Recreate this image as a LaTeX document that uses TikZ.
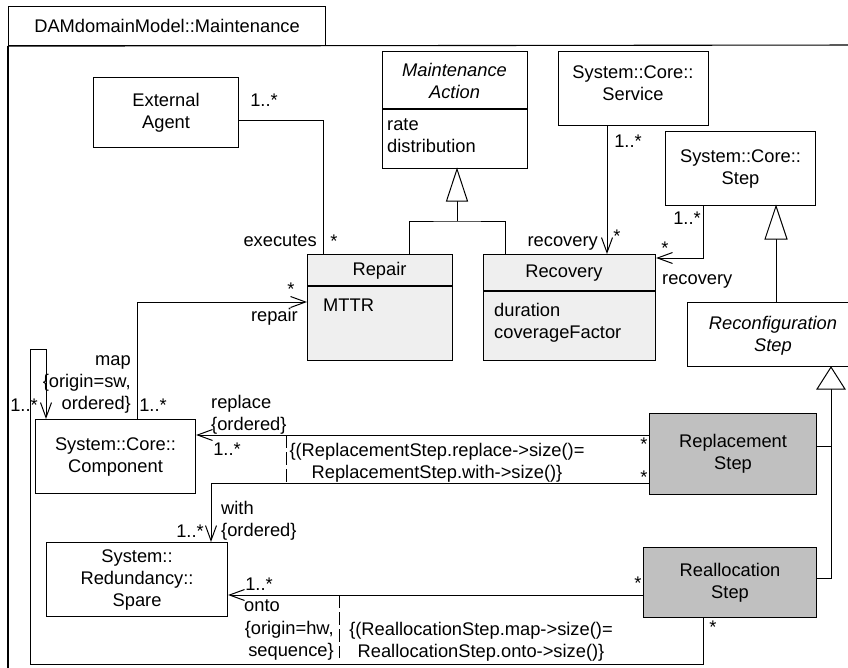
\documentclass[tikz,border=0pt]{standalone}
\usepackage{fontspec}
\setmainfont{Liberation Sans}
\usetikzlibrary{arrows.meta}
\definecolor{lightfill}{HTML}{EFEFEF}
\definecolor{darkfill}{HTML}{C0C0C0}
\tikzset{
  umlbox/.style={draw=black, line width=1.1bp, inner sep=0, anchor=north west, align=center},
  sepline/.style={draw=black, line width=1.1bp},
  conn/.style={draw=black, line width=1bp},
  nav/.style={conn, -{Straight Barb[length=15bp,width=11bp,line width=1bp]}},
  gentri/.style={draw=black, line width=1bp, fill=white},
  lbl/.style={inner sep=0, text height=13bp, text depth=4bp},
  txt/.style={inner sep=0, align=center},
  ital/.style={font=\fontsize{18.3bp}{22bp}\selectfont\itshape},
  ocl/.style={conn, dash pattern=on 13bp off 4bp},
}
\begin{document}
\begin{tikzpicture}[x=1bp, y=-1bp, every node/.style={font=\fontsize{18.3bp}{22bp}\selectfont}]
\path[use as bounding box] (0,0) rectangle (848,668);
\clip (0,0) rectangle (848,668);

% routing coordinates
\coordinate (cExec) at (323,121);
\coordinate (tA) at (457,0);
\coordinate (jA) at (457,221);
\coordinate (xRep) at (409,0);
\coordinate (xRec) at (505,0);
\coordinate (xSrv) at (607,0);
\coordinate (xStp) at (703,258);
\coordinate (tS) at (776,0);
\coordinate (tR) at (831,0);
\coordinate (yRp) at (0,446);
\coordinate (yRa) at (0,578);
\coordinate (cRep) at (137,302);
\coordinate (yRepl) at (0,435);
\coordinate (cWith) at (211,483);
\coordinate (yOnto) at (0,595);
\coordinate (k1) at (286,435);
\coordinate (k2) at (286,483);
\coordinate (k3) at (339,595);
\coordinate (k4) at (339,658);
\coordinate (m1) at (703,664);
\coordinate (m2) at (30,664);
\coordinate (m3) at (30,349);
\coordinate (m4) at (46,349);
\coordinate (frameR) at (870,45);
\coordinate (frameB) at (8,690);

% package frame
\node[umlbox, minimum width=317bp, minimum height=39bp] (tab) at (8,6) {DAMdomainModel::Maintenance};
\draw[sepline] (tab.south west) -- (frameR);
\draw[sepline] (tab.south west) -- (frameB);

% classes
\node[umlbox, minimum width=145bp, minimum height=70bp] (ext) at (93,77) {External\\Agent};
\node[umlbox, minimum width=145bp, minimum height=117bp] (maint) at (382,51) {};
\node[umlbox, minimum width=150bp, minimum height=74bp] (service) at (558,51) {};
\node[umlbox, minimum width=150bp, minimum height=74bp] (step) at (665,131) {System::Core::\\Step};
\node[umlbox, fill=lightfill, minimum width=145bp, minimum height=106bp] (repair) at (307,254) {};
\node[umlbox, fill=lightfill, minimum width=172bp, minimum height=106bp] (recovery) at (483,254) {};
\node[umlbox, minimum width=172bp, minimum height=64bp] (reconf) at (687,302) {};
\node[umlbox, minimum width=160bp, minimum height=74bp] (comp) at (35,419) {System::Core::\\Component};
\node[umlbox, minimum width=181bp, minimum height=74bp] (spare) at (46,542) {System::\\Redundancy::\\Spare};
\node[umlbox, fill=darkfill, minimum width=167bp, minimum height=81bp] (replacement) at (649,413) {Replacement\\Step};
\node[umlbox, fill=darkfill, minimum width=173bp, minimum height=70bp] (realloc) at (643,547) {Reallocation\\Step};

% compartments and class texts
\draw[sepline] (maint.west |- 0,109) -- (maint.east |- 0,109);
\draw[sepline] (repair.west |- 0,286) -- (repair.east |- 0,286);
\draw[sepline] (recovery.west |- 0,291) -- (recovery.east |- 0,291);
\node[txt, ital] (maintN) at (454.5,81) {Maintenance\\Action};
\node[txt, align=left, anchor=west] (maintA) at (387,136) {rate\\distribution};
\node[txt] (serviceN) at (633,83) {System::Core::\\Service};
\node[lbl] (repairN) at (379.5,271) {Repair};
\node[lbl, anchor=west] (repairA) at (323,307) {MTTR};
\node[lbl] (recoveryN) at (564,273) {Recovery};
\node[txt, align=left, anchor=west] (recoveryA) at (494,323) {duration\\coverageFactor};
\node[txt, ital] (reconfN) at (773,336) {Reconfiguration\\Step};

% generalizations
\coordinate (gA) at (maint.south -| tA);
\draw[conn] (repair.north -| xRep) |- (jA) -| (recovery.north -| xRec);
\draw[conn] (gA) ++(0,32) -- (jA);
\draw[gentri] (gA) -- ++(-10.5,32) -- ++(21,0) -- cycle;

\coordinate (gS) at (step.south -| tS);
\draw[conn] (gS) ++(0,33) -- (reconf.north -| tS);
\draw[gentri] (gS) -- ++(-11,33) -- ++(22,0) -- cycle;

\coordinate (gR) at (reconf.south -| tR);
\draw[conn] (gR) ++(0,22) -- (tR |- yRa) -- (realloc.east |- yRa);
\draw[conn] (replacement.east |- yRp) -- (tR |- yRp);
\draw[gentri] (gR) -- ++(-14,22) -- ++(28,0) -- cycle;

% associations
\draw[conn] (ext.east |- cExec) -| (repair.north -| cExec);
\draw[nav] (service.south -| xSrv) -- (recovery.north -| xSrv);
\draw[nav] (step.south -| xStp) |- (recovery.east |- xStp);
\draw[nav] (comp.north -| cRep) |- (repair.west |- cRep);
\draw[nav] (replacement.west |- yRepl) -- (comp.east |- yRepl);
\draw[nav] (replacement.west |- cWith) -| (spare.north -| cWith);
\draw[nav] (realloc.west |- yOnto) -- (spare.east |- yOnto);
\draw[nav] (realloc.south -| m1) -- (m1) -- (m2) -- (m3) -- (m4) -- (comp.north -| m4);

% constraints
\draw[ocl] (k1) -- (k2);
\draw[ocl] (k3) -- (k4);
\node[txt] (con1) at (437,463) {\{(ReplacementStep.replace->size()=\\ReplacementStep.with->size()\}};
\node[txt] (con2) at (481,642) {\{(ReallocationStep.map->size()=\\ReallocationStep.onto->size()\}};

% role names and multiplicities
\node[lbl] (mExtA) at (264,102) {1..*};
\node[lbl, anchor=east] (rExec) at (317,242) {executes};
\node[lbl] (mExecB) at (334,243) {*};
\node[lbl] (mSrvA) at (628,143) {1..*};
\node[lbl, anchor=east] (rRec1) at (598,242) {recovery};
\node[lbl] (mSrvB) at (617,238) {*};
\node[lbl] (mStpA) at (687,220) {1..*};
\node[lbl] (mStpB) at (665,250) {*};
\node[lbl, anchor=west] (rRec2) at (662,280) {recovery};
\node[lbl] (mRepB) at (291,291) {*};
\node[lbl, anchor=east] (rRep) at (298,317) {repair};
\node[lbl] (mRepA) at (153,407) {1..*};
\node[txt, align=right, anchor=east] (rMap) at (131,384) {map\\\{origin=sw,\\ordered\}};
\node[lbl] (mMapA) at (24,407) {1..*};
\node[txt, align=left, anchor=west] (rRepl) at (211,415) {replace\\\{ordered\}};
\node[lbl] (mReplA) at (227,451) {1..*};
\node[lbl] (mReplB) at (644,446) {*};
\node[txt, align=left, anchor=west] (rWith) at (221,521) {with\\\{ordered\}};
\node[lbl] (mWithA) at (190,533) {1..*};
\node[lbl] (mWithB) at (644,479) {*};
\node[lbl] (mOntoA) at (259,586) {1..*};
\node[lbl] (mOntoB) at (638,585) {*};
\node[lbl, anchor=west] (rOnto) at (244,607) {onto};
\node[txt, align=right, anchor=east] (rOntoC) at (334,641) {\{origin=hw,\\sequence\}};
\node[lbl] (mMapB) at (713,629) {*};
\end{tikzpicture}
\end{document}
